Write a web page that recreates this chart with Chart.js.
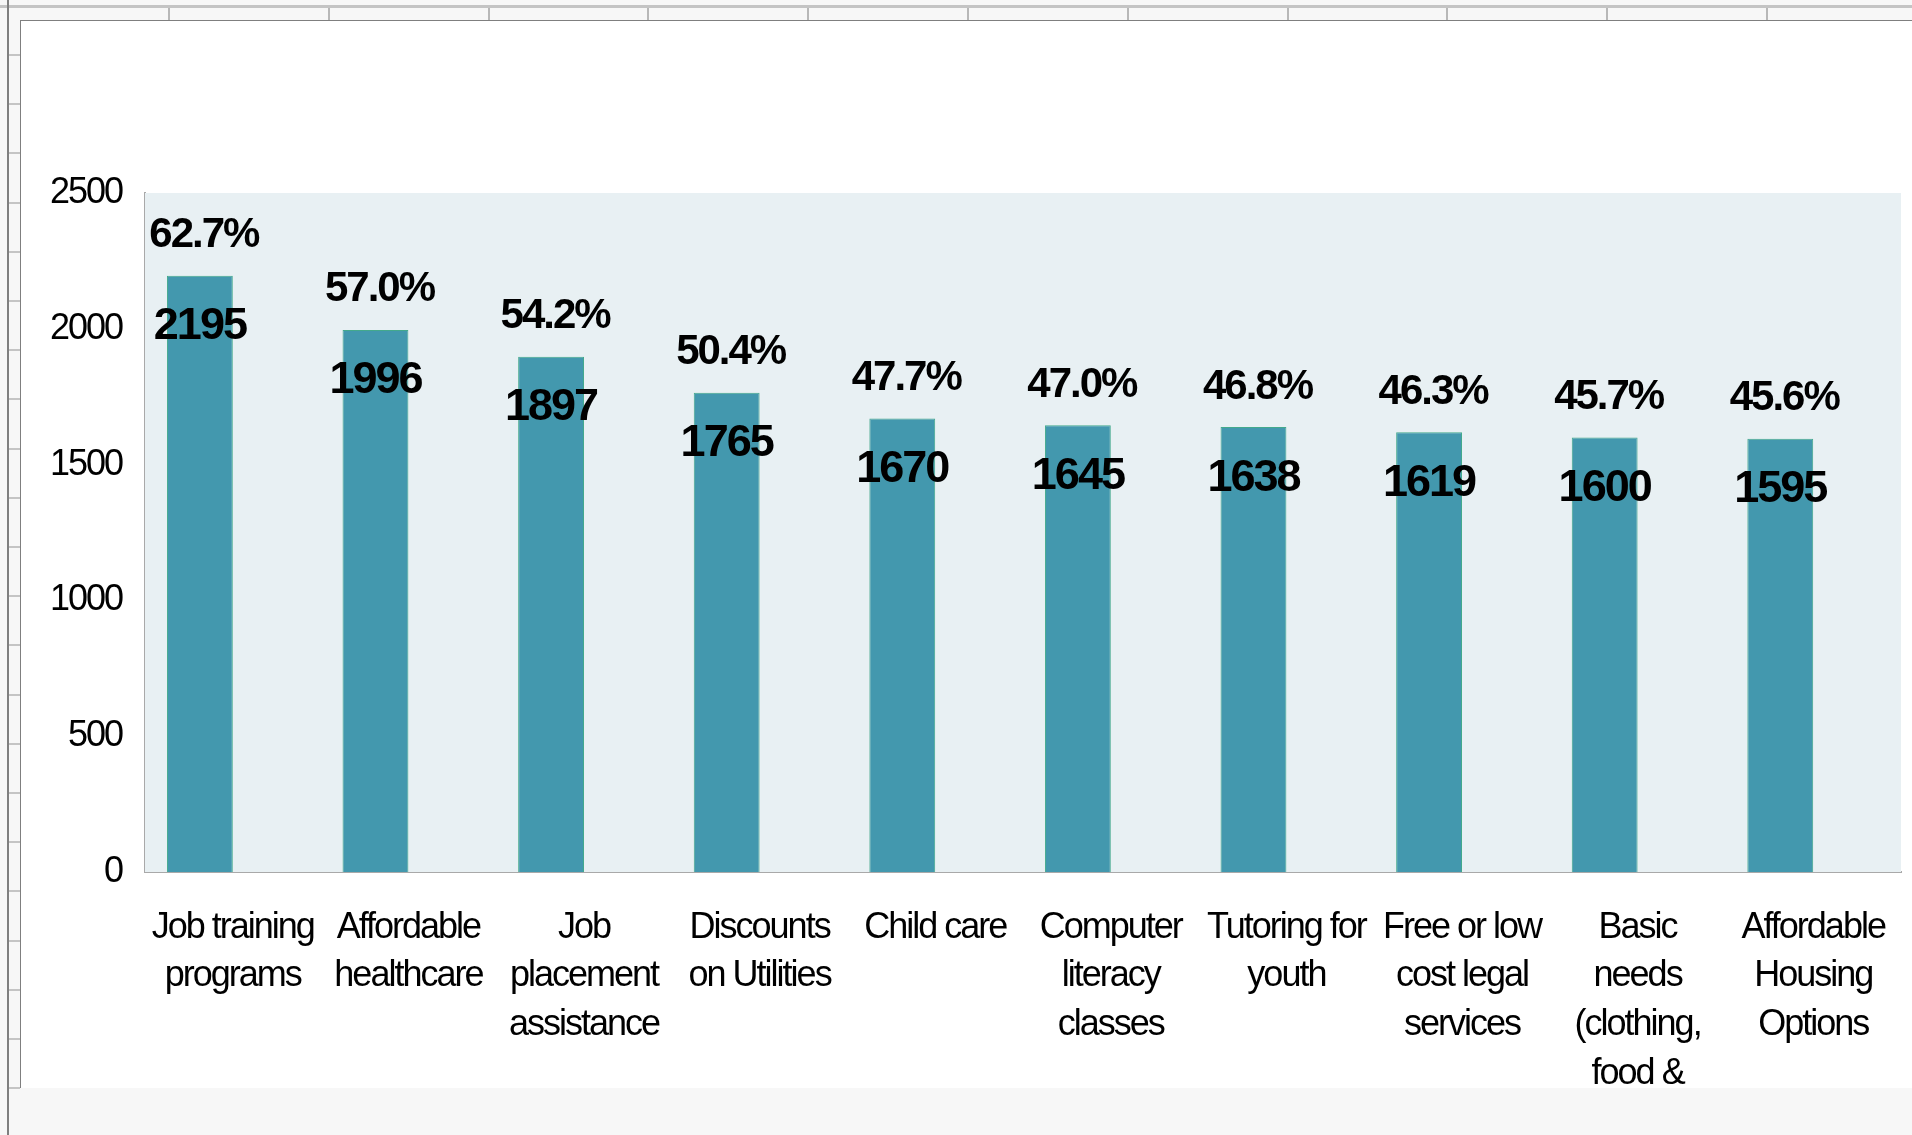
<!DOCTYPE html>
<html>
<head>
<meta charset="utf-8">
<script src="https://cdn.jsdelivr.net/npm/chart.js@4.4.1/dist/chart.umd.min.js"></script>
<style>
  html, body { margin: 0; padding: 0; }
  body { width: 1912px; height: 1135px; background: #f7f7f7; position: relative; overflow: hidden; }
  .deco { position: absolute; }
  #chartBox { position: absolute; left: 20px; top: 20px; width: 1891px; height: 1067px;
    background: #fff; border-left: 1px solid #7f7f7f; border-top: 1px solid #7f7f7f; }
  #chart { position: absolute; left: 0; top: 0; }
</style>
</head>
<body>
<div id="chartBox"><canvas id="chart" width="1891" height="1067"></canvas></div>
<script>
// Data
let categories = [
  ["Job training", "programs"],
  ["Affordable", "healthcare"],
  ["Job", "placement", "assistance"],
  ["Discounts", "on Utilities"],
  ["Child care"],
  ["Computer", "literacy", "classes"],
  ["Tutoring for", "youth"],
  ["Free or low", "cost legal", "services"],
  ["Basic", "needs", "(clothing,", "food &", "shelter)"],
  ["Affordable", "Housing", "Options"]
];
let counts = [2195, 1996, 1897, 1765, 1670, 1645, 1638, 1619, 1600, 1595];
let percents = ["62.7%", "57.0%", "54.2%", "50.4%", "47.7%", "47.0%", "46.8%", "46.3%", "45.7%", "45.6%"];
let yTicks = [0, 500, 1000, 1500, 2000, 2500];

// spreadsheet lines behind the chart object
function deco(l, t, w, h, c) {
  let d = document.createElement("div");
  d.className = "deco";
  d.style.cssText = `left:${l}px;top:${t}px;width:${w}px;height:${h}px;background:${c}`;
  document.body.insertBefore(d, document.getElementById("chartBox"));
}
deco(0, 5, 1912, 3, "#c4c4c4");
deco(7, 0, 2, 1135, "#7f7f7f");
for (let i = 0; i < 11; i++) deco(Math.round(168 + i * 159.8), 8, 2, 12, "#b8b8b8");
for (let k = 0; k < 22; k++) deco(9, Math.round(54 + k * 49.2), 11, 2, "#c4c4c4");

const FONT = '"Liberation Sans", Arial, sans-serif';
Chart.defaults.font.family = FONT;
Chart.defaults.color = "#000";

// tight letter spacing like the original rendering
const tightText = {
  id: "tightText",
  beforeLayout(chart) { chart.ctx.letterSpacing = "-2px"; },
  beforeDraw(chart) { chart.ctx.letterSpacing = "-2px"; }
};

// plot area background
const plotBg = {
  id: "plotBg",
  beforeDatasetsDraw(chart) {
    let a = chart.chartArea, ctx = chart.ctx;
    ctx.save();
    ctx.fillStyle = "#e8f0f3";
    ctx.fillRect(a.left, a.top, a.right - a.left, a.bottom - a.top);
    ctx.restore();
  }
};

// value and percent labels
const barLabels = {
  id: "barLabels",
  afterDatasetsDraw(chart) {
    let ctx = chart.ctx;
    let bars = chart.getDatasetMeta(0).data;
    ctx.save();
    ctx.letterSpacing = "-2px";
    ctx.fillStyle = "#000";
    ctx.textAlign = "center";
    ctx.textBaseline = "middle";
    bars.forEach((bar, i) => {
      ctx.font = "bold 42px " + FONT;
      ctx.fillText(percents[i], bar.x + 4, bar.y - 40);
      ctx.font = "bold 45px " + FONT;
      ctx.fillText(String(counts[i]), bar.x, bar.y + 51);
    });
    ctx.restore();
  }
};

let ctx = document.getElementById("chart").getContext("2d");
let chart = new Chart(ctx, {
  type: "bar",
  data: {
    labels: categories,
    datasets: [{
      label: "Count",
      data: counts,
      backgroundColor: "#4398ae",
      borderColor: "#43a98c",
      borderWidth: 1,
      barPercentage: 1.0,
      categoryPercentage: 0.75
    }, {
      label: "Percent",
      data: counts.map(() => null),
      backgroundColor: "rgba(0,0,0,0)",
      barPercentage: 1.0,
      categoryPercentage: 0.75
    }]
  },
  options: {
    responsive: false,
    animation: false,
    devicePixelRatio: 1,
    layout: { padding: { top: 172, right: 11, left: 0, bottom: 0 } },
    plugins: { legend: { display: false }, tooltip: { enabled: false } },
    scales: {
      x: {
        grid: { display: false, drawTicks: false },
        border: { display: true, color: "#a9a9a9", width: 2 },
        ticks: { font: { size: 36, lineHeight: 1.35 }, padding: 31.5, maxRotation: 0, autoSkip: false },
        afterFit(scale) {
          scale.height = 216;
          scale.paddingLeft = 0;
          scale.paddingRight = 0;
        }
      },
      y: {
        min: 0,
        max: 2500,
        afterBuildTicks(scale) { scale.ticks = yTicks.map(v => ({ value: v })); },
        grid: { display: false, drawTicks: false },
        border: { display: true, color: "#a9a9a9", width: 2 },
        ticks: { font: { size: 36 }, padding: 23, callback: v => String(v) },
        afterFit(scale) { scale.width = 124; }
      }
    }
  },
  plugins: [tightText, plotBg, barLabels]
});
</script>
</body>
</html>
